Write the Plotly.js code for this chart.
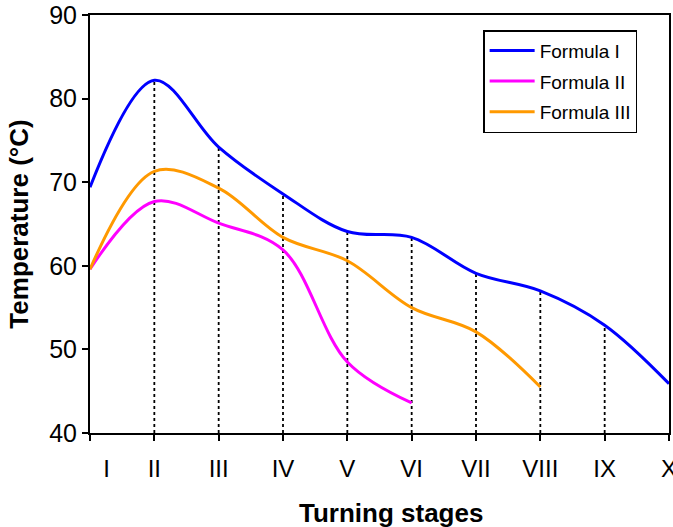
<!DOCTYPE html>
<html>
<head>
<meta charset="utf-8">
<script src="https://cdn.plot.ly/plotly-3.0.1.min.js"></script>
<style>html,body{margin:0;padding:0;background:#fff;}#chart{width:673px;height:527px;}</style>
</head>
<body>
<div id="chart"></div>
<script>
const stages = ["I","II","III","IV","V","VI","VII","VIII","IX","X"];
const stagePos = [1,2,3,4,5,6,7,8,9,10];
const formula1 = [69.4, 82.2, 74.2, 68.6, 64.1, 63.4, 59.1, 57.0, 52.9, 45.9];
const formula2 = [59.6, 67.7, 65.1, 61.9, 48.5, 43.6];
const formula3 = [59.6, 71.3, 69.3, 63.4, 60.6, 55.0, 52.1, 45.5];
const seriesNames = ["Formula I", "Formula II", "Formula III"];
const seriesColors = ["#0000FF", "#FF00FF", "#FF9900"];

// vertical drop lines from the top curve to the axis at each stage
const dropX = [], dropY = [];
for (let i = 1; i < stagePos.length - 1; i++) {
  dropX.push(stagePos[i], stagePos[i], null);
  dropY.push(40, formula1[i], null);
}

const traces = [
  {x: dropX, y: dropY, mode: "lines", line: {color: "#000", width: 1.8, dash: "dot"}, showlegend: false, hoverinfo: "skip"},
  {x: stagePos.slice(0, formula1.length), y: formula1, name: seriesNames[0], legendgroup: "a", mode: "lines", line: {color: seriesColors[0], width: 3, shape: "spline", smoothing: 1}},
  {x: stagePos.slice(0, formula2.length), y: formula2, name: seriesNames[1], legendgroup: "b", mode: "lines", line: {color: seriesColors[1], width: 3, shape: "spline", smoothing: 1}},
  {x: stagePos.slice(0, formula3.length), y: formula3, name: seriesNames[2], legendgroup: "c", mode: "lines", line: {color: seriesColors[2], width: 3, shape: "spline", smoothing: 1}}
];

const tickText = stages.map((s, i) => i === 0 ? "\u00a0\u00a0\u00a0\u00a0\u00a0" + s : s);

const layout = {
  width: 673, height: 527,
  margin: {l: 90, r: 4, t: 15, b: 94},
  paper_bgcolor: "#fff", plot_bgcolor: "#fff",
  font: {family: "Arial, Liberation Sans, sans-serif", color: "#000"},
  showlegend: true,
  legend: {
    x: 0.679, y: 0.964, xanchor: "left", yanchor: "top",
    bgcolor: "#fff", bordercolor: "#000", borderwidth: 1.5,
    font: {size: 19, family: "Arial, Liberation Sans, sans-serif"},
    traceorder: "grouped", tracegroupgap: 3, itemwidth: 45
  },
  xaxis: {
    range: [1, 10], tickvals: stagePos, ticktext: tickText,
    showgrid: false, zeroline: false, showline: true, mirror: true,
    linecolor: "#000", linewidth: 2, ticks: "outside", ticklen: 6, tickwidth: 2, tickcolor: "#000",
    tickfont: {size: 24}, ticklabelstandoff: 7, ticklabeloverflow: "allow"
  },
  yaxis: {
    range: [40, 90], tickvals: [40, 50, 60, 70, 80, 90],
    showgrid: false, zeroline: false, showline: true, mirror: true,
    linecolor: "#000", linewidth: 2, ticks: "outside", ticklen: 6, tickwidth: 2, tickcolor: "#000",
    tickfont: {size: 25},
    title: {text: "<b>Temperature (°C)</b>", font: {size: 26}, standoff: 13}
  },
  annotations: [{
    text: "<b>Turning stages</b>", xref: "paper", yref: "paper",
    x: 0.52, y: -0.191, xanchor: "center", yanchor: "middle",
    showarrow: false, font: {size: 26}
  }]
};

Plotly.newPlot("chart", traces, layout, {displayModeBar: false, staticPlot: true});
</script>
</body>
</html>
